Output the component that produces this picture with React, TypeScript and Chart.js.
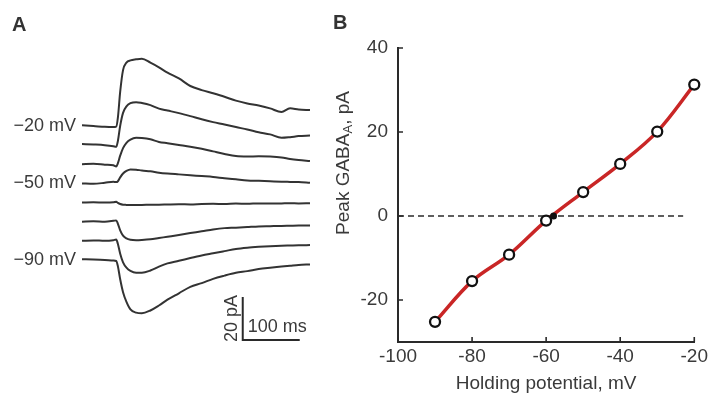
import { useEffect, useRef } from 'react';
import { Chart, registerables } from 'chart.js';

Chart.register(...registerables);

// ---------------- data ----------------
const HOLDING_MV = [-20, -30, -40, -50, -60, -70, -80, -90];
const LABELED_MV = [-20, -50, -90];

// Panel A: time base (ms) shared by all traces
const TIME_MS = [0, 20, 40, 55, 60, 63, 67, 72, 78, 85, 95, 105, 120, 135, 150, 170, 190, 210, 230, 250, 270, 290, 310, 330, 350, 365, 380, 400];

// current (pA) relative to baseline, one array per holding potential
const TRACE_M20 = [0.3, 0, -0.4, -0.5, -0.3, 4, 16, 26, 29.5, 30.5, 31, 31.3, 29.5, 27.3, 24.8, 22.1, 18.6, 16.7, 15.2, 13.6, 11.8, 10.5, 9.5, 8.2, 6.5, 8.2, 7.7, 7.4];
const TRACE_M30 = [0.5, 0.3, 0, -0.5, -0.8, 2, 9, 15, 18, 19.5, 20, 19.6, 18.6, 17, 16.1, 14.9, 13.5, 12, 10.7, 9.6, 8.4, 7.3, 6, 5, 3.4, 3.7, 4.2, 4.5];
const TRACE_M40 = [0, 0.2, -0.2, -0.5, -1, 0.5, 4, 7.5, 10, 11.5, 12.3, 12.2, 11.6, 10.4, 9.8, 9, 8.2, 7.2, 6, 4.8, 3.8, 3.6, 3.7, 3.6, 3.2, 2.5, 2, 1.5];
const TRACE_M50 = [0, -0.2, 0.3, 0.8, 0.6, 1, 2.8, 4.6, 5.8, 6.5, 6.4, 6, 5.6, 5, 4.6, 4.2, 3.8, 3.4, 3, 2.4, 1.9, 1.4, 1.2, 1, 0.8, 0.7, 0.6, 0.3];
const TRACE_M60 = [0, 0.1, 0, 0.1, 0.4, -0.2, -0.7, -1, -1.1, -1.2, -1.1, -1.1, -1, -1, -0.9, -0.8, -0.9, -0.7, -0.6, -0.7, -0.5, -0.6, -0.4, -0.5, -0.4, -0.3, -0.4, -0.3];
const TRACE_M70 = [0, 0.2, 0, 0.4, 0.6, -1, -4, -6.5, -7.8, -8.4, -8.6, -8.5, -8.2, -7.6, -7, -6.2, -5.3, -4.5, -3.6, -3, -2.8, -2.5, -2.2, -2.1, -2, -1.9, -1.8, -1.8];
const TRACE_M80 = [0, 0.2, 0, 0.3, 0.6, -1.5, -6, -10, -12.5, -14, -14.8, -14.8, -13.8, -12, -10.5, -9.3, -8, -6.8, -5.8, -4.8, -3.8, -3.2, -2.8, -2.5, -2.3, -2.2, -2.1, -2];
const TRACE_M90 = [0.3, 0.2, 0, -0.3, -0.5, -3, -9, -15, -19.5, -23, -24.5, -24.8, -23.5, -21.2, -18.5, -15.5, -12.5, -10.8, -8.8, -7.3, -6, -5.2, -4.2, -3.6, -3.1, -2.7, -2.3, -2.1];
const TRACES = [TRACE_M20, TRACE_M30, TRACE_M40, TRACE_M50, TRACE_M60, TRACE_M70, TRACE_M80, TRACE_M90];
const TRACE_SPACING_PA = 8.9;

// scale bar (ms, pA in panel-A data units)
const SCALE_BAR_X = [282, 282, 382];
const SCALE_BAR_Y = [-79.5, -99.5, -99.5];

// Panel B: peak current vs holding potential
const PEAK_PA = [31.3, 20.1, 12.4, 5.7, -1.1, -9.2, -15.5, -25.2];
const REVERSAL_MV = [-58];
const REVERSAL_PA = [0];
const ZERO_LINE_MV = [-100, -23];
const X_TICKS_B = [-100, -80, -60, -40, -20];
const Y_TICKS_B = [-20, 0, 20, 40];

const FONT = '"Liberation Sans", Arial, Helvetica, sans-serif';
const TEXT = '#3a3a3a';
const INK = '#2a2a2a';

export default function App() {
  const refA = useRef<HTMLCanvasElement | null>(null);
  const refB = useRef<HTMLCanvasElement | null>(null);

  useEffect(() => {
    if (!refA.current || !refB.current) return;

    // ---------- Panel A ----------
    const traceSets = HOLDING_MV.map((mv, i) => ({
      label: `${mv} mV`,
      data: TIME_MS.map((t, k) => ({ x: t, y: TRACES[i][k] - i * TRACE_SPACING_PA })),
      borderColor: '#333333',
      borderWidth: 2,
      pointRadius: 0,
      cubicInterpolationMode: 'monotone' as const,
      fill: false,
    }));
    const scaleBarSet = {
      label: 'scale',
      data: SCALE_BAR_X.map((x, k) => ({ x, y: SCALE_BAR_Y[k] })),
      borderColor: INK,
      borderWidth: 2,
      pointRadius: 0,
      tension: 0,
      fill: false,
    };

    const labelsA = {
      id: 'labelsA',
      afterDraw(chart: any) {
        const { ctx, scales } = chart;
        const xs = scales.x, ys = scales.y;
        ctx.save();
        ctx.fillStyle = TEXT;
        ctx.font = `18px ${FONT}`;
        ctx.textAlign = 'right';
        ctx.textBaseline = 'middle';
        LABELED_MV.forEach((mv) => {
          const i = HOLDING_MV.indexOf(mv);
          const y = ys.getPixelForValue(-i * TRACE_SPACING_PA);
          ctx.fillText(`\u2212${Math.abs(mv)} mV`, xs.getPixelForValue(0) - 6, y);
        });
        // scale bar labels
        const bx = xs.getPixelForValue(SCALE_BAR_X[0]);
        const byTop = ys.getPixelForValue(SCALE_BAR_Y[0]);
        const byBot = ys.getPixelForValue(SCALE_BAR_Y[1]);
        ctx.textAlign = 'left';
        ctx.fillText('100 ms', bx + 5, byBot - 13);
        ctx.save();
        ctx.translate(bx - 11, (byTop + byBot) / 2);
        ctx.rotate(-Math.PI / 2);
        ctx.textAlign = 'center';
        ctx.fillText('20 pA', 0, 0);
        ctx.restore();
        // panel letter
        ctx.font = `bold 20px ${FONT}`;
        ctx.fillStyle = '#333';
        ctx.textAlign = 'left';
        ctx.textBaseline = 'alphabetic';
        ctx.fillText('A', 12, 31);
        ctx.restore();
      },
    };

    const chartA = new Chart(refA.current, {
      type: 'line',
      data: { datasets: [...traceSets, scaleBarSet] as any },
      options: {
        animation: false,
        responsive: false,
        parsing: false as any,
        layout: { padding: { left: 82, right: 20, top: 40, bottom: 36.5 } },
        plugins: { legend: { display: false }, tooltip: { enabled: false } },
        events: [],
        scales: {
          x: { type: 'linear', min: 0, max: 400, display: false },
          y: { type: 'linear', min: -110, max: 40, display: false },
        },
      },
      plugins: [labelsA],
    });

    // ---------- Panel B ----------
    const decorB = {
      id: 'decorB',
      afterDraw(chart: any) {
        const { ctx, scales, chartArea } = chart;
        const xs = scales.x, ys = scales.y;
        ctx.save();
        ctx.strokeStyle = INK;
        ctx.lineWidth = 1.6;
        ctx.beginPath();
        Y_TICKS_B.forEach((v) => {
          const py = ys.getPixelForValue(v);
          ctx.moveTo(chartArea.left, py);
          ctx.lineTo(chartArea.left + 5, py);
        });
        X_TICKS_B.forEach((v) => {
          const px = xs.getPixelForValue(v);
          ctx.moveTo(px, chartArea.bottom);
          ctx.lineTo(px, chartArea.bottom - 5);
        });
        ctx.stroke();

        // y title with subscript
        ctx.fillStyle = TEXT;
        ctx.textBaseline = 'middle';
        ctx.translate(13.5, 163);
        ctx.rotate(-Math.PI / 2);
        const main = `19px ${FONT}`;
        const sub = `13px ${FONT}`;
        ctx.font = main;
        const w1 = ctx.measureText('Peak GABA').width;
        const w3 = ctx.measureText(', pA').width;
        ctx.font = sub;
        const w2 = ctx.measureText('A').width;
        let x0 = -(w1 + w2 + w3) / 2;
        ctx.textAlign = 'left';
        ctx.font = main;
        ctx.fillText('Peak GABA', x0, 0);
        x0 += w1;
        ctx.font = sub;
        ctx.fillText('A', x0, 5);
        x0 += w2;
        ctx.font = main;
        ctx.fillText(', pA', x0, 0);
        ctx.restore();

        ctx.save();
        ctx.font = `bold 20px ${FONT}`;
        ctx.fillStyle = '#333';
        ctx.textBaseline = 'alphabetic';
        ctx.fillText('B', 3, 29);
        ctx.restore();
      },
    };

    const pts = HOLDING_MV.map((mv, k) => ({ x: mv, y: PEAK_PA[k] }));

    const chartB = new Chart(refB.current, {
      type: 'line',
      data: {
        datasets: [
          {
            label: 'peak',
            data: pts,
            showLine: false,
            pointRadius: 5,
            pointBorderWidth: 2.3,
            pointBackgroundColor: '#ffffff',
            pointBorderColor: '#111111',
            clip: false as any,
          },
          {
            label: 'reversal',
            data: REVERSAL_MV.map((x, k) => ({ x, y: REVERSAL_PA[k] })),
            showLine: false,
            pointRadius: 3.5,
            pointBorderWidth: 0,
            pointBackgroundColor: '#111111',
          },
          {
            label: 'fit',
            data: pts,
            borderColor: '#c92626',
            borderWidth: 3.5,
            pointRadius: 0,
            tension: 0.35,
            fill: false,
          },
          {
            label: 'zero',
            data: ZERO_LINE_MV.map((x) => ({ x, y: 0 })),
            borderColor: INK,
            borderWidth: 1.3,
            borderDash: [6, 4],
            pointRadius: 0,
            fill: false,
          },
        ] as any,
      },
      options: {
        animation: false,
        responsive: false,
        parsing: false as any,
        events: [],
        layout: { padding: { left: 0, right: 14, top: 48, bottom: 0 } },
        plugins: { legend: { display: false }, tooltip: { enabled: false } },
        scales: {
          x: {
            type: 'linear',
            min: -100,
            max: -20,
            afterBuildTicks: (s: any) => { s.ticks = X_TICKS_B.map((v) => ({ value: v })); },
            afterFit: (s: any) => { s.height = 57; },
            ticks: {
              font: { family: FONT, size: 19 },
              color: TEXT,
              padding: 3,
              maxRotation: 0,
              autoSkip: false,
              callback: (v: any) => String(v),
            },
            grid: { display: false, drawTicks: false },
            border: { display: true, color: INK, width: 2 },
            title: {
              display: true,
              text: 'Holding potential, mV',
              font: { family: FONT, size: 19 },
              color: TEXT,
              padding: { top: 0, bottom: 4 },
            },
          },
          y: {
            type: 'linear',
            min: -30,
            max: 40,
            afterBuildTicks: (s: any) => { s.ticks = Y_TICKS_B.map((v) => ({ value: v })); },
            afterFit: (s: any) => { s.width = 68; },
            ticks: {
              font: { family: FONT, size: 19 },
              color: TEXT,
              padding: 10,
              callback: (v: any) => String(v),
            },
            grid: { display: false, drawTicks: false },
            border: { display: true, color: INK, width: 2 },
          },
        },
      },
      plugins: [decorB],
    });

    return () => {
      chartA.destroy();
      chartB.destroy();
    };
  }, []);

  return (
    <div style={{ position: 'absolute', left: 0, top: 0, width: 711, height: 399, background: '#fff' }}>
      <canvas ref={refA} width={330} height={399} style={{ position: 'absolute', left: 0, top: 0 }} />
      <canvas ref={refB} width={381} height={399} style={{ position: 'absolute', left: 330, top: 0 }} />
    </div>
  );
}
